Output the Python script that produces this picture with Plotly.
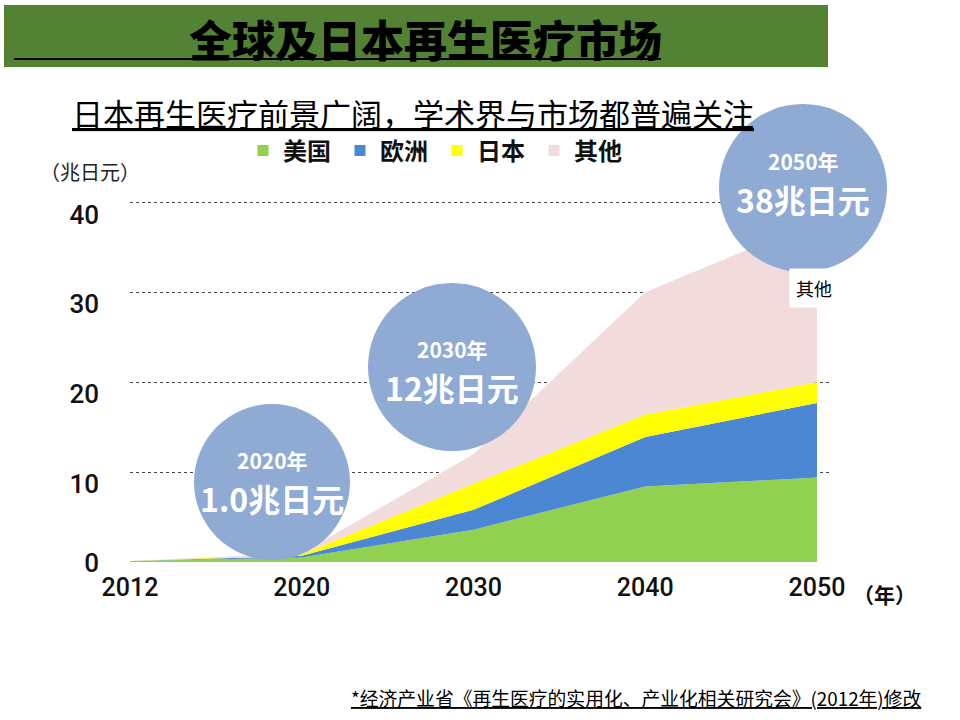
import plotly.graph_objects as go

# ---------------- data ----------------
years = ["2012", "2020", "2030", "2040", "2050"]
usa = [0.1, 0.5, 3.6, 8.4, 9.4]
europe = [0.0, 0.2, 2.2, 5.5, 8.3]
japan = [0.0, 0.15, 2.9, 2.5, 2.3]
others = [0.0, 0.15, 3.3, 13.6, 18.0]
series_names = ["美国", "欧洲", "日本", "其他"]
series_values = [usa, europe, japan, others]
series_colors = ["#92D050", "#4C87D3", "#FFFF00", "#F2DCDB"]
y_ticks = [0, 10, 20, 30, 40]

bubbles = [  # (year label, total label)
    ("2020年", "1.0兆日元"),
    ("2030年", "12兆日元"),
    ("2050年", "38兆日元"),
]

# ---------------- layout geometry (pixels) ----------------
W, H = 960, 720
L, R = 130, 829
T, B = 198, 562
PW, PH = R - L, B - T


def px(x):
    return (x - L) / PW


def py(y):
    return (B - y) / PH


CJK = "Noto Sans CJK SC"
NUM = "Roboto, Liberation Sans, sans-serif"

fig = go.Figure()
for name, vals, col in zip(series_names, series_values, series_colors):
    fig.add_trace(go.Scatter(
        x=years, y=vals, name=name, mode="lines", stackgroup="one",
        line=dict(width=0, color=col), fillcolor=col, showlegend=False,
        hoverinfo="x+y+name",
    ))
# legend entries (small square symbols); they sit on the overlaid y axis so it is drawn
for name, col in zip(series_names, series_colors):
    fig.add_trace(go.Scatter(
        x=[None], y=[None], name=name, mode="markers", yaxis="y2",
        marker=dict(symbol="square", size=11, color=col), showlegend=True,
    ))

shapes = []
# green banner
shapes.append(dict(type="rect", xref="paper", yref="paper",
                   x0=px(4), x1=px(828), y0=py(67), y1=py(5),
                   fillcolor="#548235", line=dict(width=0), layer="above"))
# title underline
shapes.append(dict(type="line", xref="paper", yref="paper",
                   x0=px(14), x1=px(661), y0=py(59), y1=py(59),
                   line=dict(color="black", width=2)))
# bubbles
circles = [(272, 482, 78), (452, 367, 84), (803, 188, 84)]
for cx, cy, r in circles:
    shapes.append(dict(type="circle", xref="paper", yref="paper",
                       x0=px(cx - r), x1=px(cx + r), y0=py(cy + r), y1=py(cy - r),
                       fillcolor="#8FAAD3", line=dict(width=0), layer="above"))

annotations = []


def ann(text, x, y, size, color="black", weight="normal", family=CJK, **kw):
    annotations.append(dict(text=text, x=px(x), y=py(y), xref="paper", yref="paper",
                            showarrow=False, xanchor=kw.pop("xanchor", "center"),
                            yanchor="middle",
                            font=dict(size=size, color=color, family=family, weight=weight),
                            **kw))


ann("全球及日本再生医疗市场", 425, 38, 43, weight=900)
ann("<u>日本再生医疗前景广阔，学术界与市场都普遍关注</u>", 413, 113, 31)
ann("（兆日元）", 90, 171, 20, color="#222")
ann("（年）", 884, 594, 21, color="#111", weight="bold")
ann("<u>*经济产业省《再生医疗的实用化、产业化相关研究会》(2012年)修改</u>", 636, 697, 18.8)

bubble_txt = [(272, 460, 498), (452, 349, 387), (803, 161, 199)]
for (yl, tl), (cx, y1, y2) in zip(bubbles, bubble_txt):
    ann(yl, cx, y1, 21, color="white", weight="bold")
    ann(tl, cx, y2, 32, color="white", weight="bold")

ann("其他", 814, 288, 18, color="black", bgcolor="white", borderpad=6)

tickfont = dict(family=NUM, size=26, color="#111", weight=500)

fig.update_layout(
    width=W, height=H,
    margin=dict(l=L, r=W - R, t=T, b=H - B),
    paper_bgcolor="white", plot_bgcolor="white",
    shapes=shapes, annotations=annotations,
    showlegend=True,
    legend=dict(orientation="h", x=px(243), y=py(151), xanchor="left", yanchor="middle",
                traceorder="normal",
                font=dict(size=24, family=CJK, color="#111", weight="bold"),
                entrywidth=52, entrywidthmode="pixels", bgcolor="rgba(0,0,0,0)",
                itemclick=False),
    xaxis=dict(type="category", range=[0, 4.07], showgrid=False, zeroline=False,
               showline=False, ticks="", ticklabelstandoff=8,
               tickfont=dict(family=NUM, size=25, color="#111", weight=500)),
    # primary y axis: dotted gridlines, only the "0" label (sits at the baseline)
    yaxis=dict(range=[0, 40.5], tickvals=y_ticks,
               ticktext=[str(v) if v == 0 else "" for v in y_ticks],
               showgrid=True, griddash="dot",
               gridcolor="#444", gridwidth=1, zeroline=True,
               zerolinecolor="rgba(0,0,0,0)", showline=False, ticks="",
               ticklabelstandoff=30, ticklabelshift=1, tickfont=tickfont),
    # overlaid y axis: the remaining labels, drawn slightly below their gridlines
    yaxis2=dict(range=[0, 40.5], overlaying="y", side="left", anchor="x",
                tickvals=[v for v in y_ticks if v != 0],
                showgrid=False, zeroline=False, showline=False, ticks="",
                ticklabelstandoff=30, ticklabelshift=12, tickfont=tickfont),
)

fig.write_html("out.html")
